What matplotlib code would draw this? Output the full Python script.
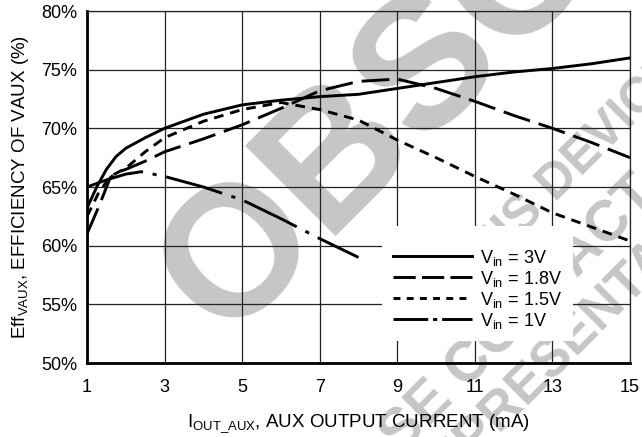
import matplotlib
matplotlib.use("Agg")
import matplotlib.pyplot as plt
from matplotlib.lines import Line2D
from matplotlib import font_manager

# efficiency of VAUX vs aux output current
x_3v = [1, 1.25, 1.5, 1.75, 2, 2.5, 3, 3.5, 4, 5, 6, 7, 8, 9, 10, 11, 12, 13, 14, 15]
eff_3v = [63.2, 65.0, 66.5, 67.6, 68.3, 69.2, 70.0, 70.6, 71.2, 72.0, 72.4, 72.7,
          72.9, 73.4, 73.9, 74.4, 74.8, 75.1, 75.5, 76.0]

x_18v = [1, 1.3, 1.6, 1.8, 2, 2.5, 3, 4, 5, 6, 7, 8, 9, 10, 11, 12, 13, 14, 15]
eff_18v = [61.0, 63.3, 65.8, 66.3, 66.5, 67.2, 68.0, 69.1, 70.3, 71.7, 73.2, 74.0,
           74.2, 73.4, 72.3, 71.1, 70.0, 68.8, 67.5]

x_15v = [1, 1.3, 1.6, 2, 2.5, 3, 4, 5, 6, 7, 8, 9, 10, 11, 12, 13, 14, 15]
eff_15v = [62.5, 64.5, 65.9, 66.6, 68.0, 69.2, 70.6, 71.6, 72.2, 71.6, 70.7, 69.0,
           67.5, 65.9, 64.4, 62.8, 61.6, 60.4]

x_1v = [1, 1.5, 2, 2.4, 3, 4, 5, 6, 7, 8]
eff_1v = [65.0, 65.6, 66.1, 66.3, 65.9, 65.0, 63.9, 62.3, 60.6, 59.0]

xticks = [1, 3, 5, 7, 9, 11, 13, 15]
yticks = [50, 55, 60, 65, 70, 75, 80]
labels = [r'V$_{\mathregular{in}}$ = 3V', r'V$_{\mathregular{in}}$ = 1.8V',
          r'V$_{\mathregular{in}}$ = 1.5V', r'V$_{\mathregular{in}}$ = 1V']

names = {f.name for f in font_manager.fontManager.ttflist}
fam = 'Liberation Sans Narrow' if 'Liberation Sans Narrow' in names else 'Liberation Sans'
plt.rcParams['font.family'] = [fam, 'DejaVu Sans']
plt.rcParams['lines.scale_dashes'] = False

fig = plt.figure(figsize=(6.42, 4.37), dpi=100)
ax = fig.add_axes([87/642, 1 - 363/437, 543/642, 352/437])
ax.patch.set_alpha(0)

# watermark, sits under everything
wm = dict(color='#c6c6c6', fontweight='bold', family='Liberation Sans', rotation=45,
          rotation_mode='anchor', ha='center', va='center', zorder=-1)
fig.text(0.855, 1.12, 'OBSOLETE', fontsize=133, **wm)
fig.text(0.883, 0.604, 'THIS DEVICE', fontsize=36, **wm)
fig.text(0.726, 0.156, 'PLEASE CONTACT', fontsize=41, **wm)
fig.text(0.797, 0.078, 'SALES REPRESENTATIVE', fontsize=38, **wm)

lw = 2.1
ax.plot(x_3v, eff_3v, color='black', lw=lw)
ax.plot(x_18v, eff_18v, color='black', lw=lw, dashes=(20, 6.5))
ax.plot(x_15v, eff_15v, color='black', lw=lw, dashes=(7, 5))
ax.plot(x_1v, eff_1v, color='black', lw=lw, dashes=(42, 7, 3, 7))

ax.set_xlim(1, 15)
ax.set_ylim(50, 80)
ax.set_xticks(xticks)
ax.set_yticks(yticks)
ax.set_yticklabels([f'{v}%' for v in yticks])
ax.tick_params(length=0, labelsize=13)
ax.tick_params(axis='x', pad=11.5)
ax.tick_params(axis='y', pad=7)
ax.grid(True, color='#222222', lw=0.9)
ax.set_axisbelow(True)
for s in ['left', 'bottom']:
    ax.spines[s].set_linewidth(2.0)
for s in ['top', 'right']:
    ax.spines[s].set_linewidth(0.9)
    ax.spines[s].set_color('#222222')

ax.set_xlabel(r'I$_{\mathregular{OUT\_AUX}}$, AUX OUTPUT CURRENT (mA)', fontsize=13.5, labelpad=12)
ax.set_ylabel(r'Eff$_{\mathregular{VAUX}}$, EFFICIENCY OF VAUX (%)', fontsize=13.5, labelpad=7)

handles = [Line2D([], [], color='black', lw=lw),
           Line2D([], [], color='black', lw=lw, dashes=(16, 4.5)),
           Line2D([], [], color='black', lw=lw, dashes=(5, 4.5)),
           Line2D([], [], color='black', lw=lw, dashes=(25, 3.5, 3, 3.5))]
leg = ax.legend(handles, labels, loc='upper left', bbox_to_anchor=(0.543, 0.389),
                borderaxespad=0, frameon=True, fancybox=False, facecolor='white',
                edgecolor='none', framealpha=1, fontsize=13, handlelength=4.4,
                handletextpad=0.45, labelspacing=0.05, borderpad=0.6,
                title=' ', title_fontsize=7)

fig.savefig('out.png', dpi=100)
